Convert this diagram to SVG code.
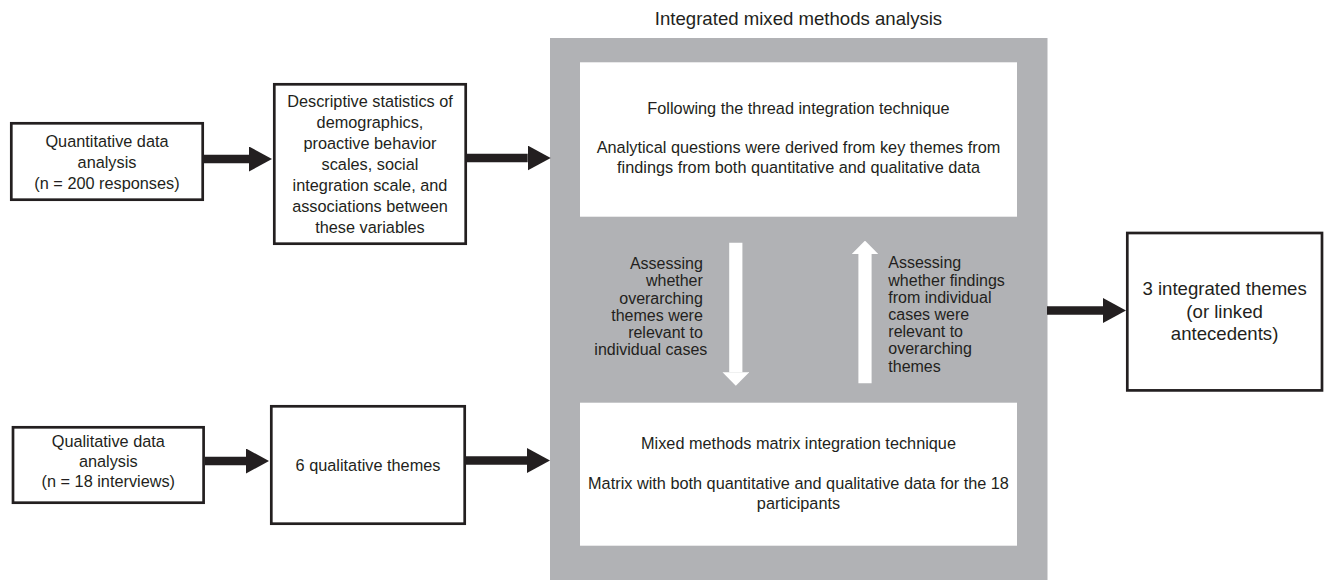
<svg xmlns="http://www.w3.org/2000/svg" width="1327" height="580" viewBox="0 0 1327 580">
  <style>
    text { font-family: "Liberation Sans", Arial, Helvetica, sans-serif; fill: #231f20; }
    .t { font-size: 16.3px; text-anchor: middle; }
    .big { font-size: 18.6px; text-anchor: middle; }
    .side { font-size: 16px; }
    .box { fill: #ffffff; stroke: #231f20; stroke-width: 2.7; }
    .panel { fill: #b1b2b5; }
    .inner { fill: #ffffff; }
    .flow { stroke: #231f20; stroke-width: 8.5; fill: none; marker-end: url(#head); }
    .loop { stroke: #ffffff; stroke-width: 13.2; fill: none; marker-end: url(#whead); }
  </style>
  <defs>
    <marker id="head" viewBox="0 0 23 25" markerWidth="23" markerHeight="25" refX="0" refY="12.5" orient="auto" markerUnits="userSpaceOnUse">
      <path d="M0,0 L23,12.5 L0,25 Z" fill="#231f20"/>
    </marker>
    <marker id="whead" viewBox="0 0 13.4 26.6" markerWidth="13.4" markerHeight="26.6" refX="0" refY="13.3" orient="auto" markerUnits="userSpaceOnUse">
      <path d="M0,0 L13.4,13.3 L0,26.6 Z" fill="#ffffff"/>
    </marker>
  </defs>

  <!-- integration panel -->
  <g id="integration">
    <text class="big" x="798.5" y="24.5">Integrated mixed methods analysis</text>
    <rect class="panel" x="550" y="38" width="497.5" height="542"/>
  </g>

  <g id="thread">
    <rect class="inner" x="580" y="62.3" width="437" height="154.4"/>
    <text class="t" x="798.5" y="113.5">Following the thread integration technique</text>
    <text class="t" x="798.5" y="153">Analytical questions were derived from key themes from</text>
    <text class="t" x="798.5" y="173">findings from both quantitative and qualitative data</text>
  </g>

  <g id="matrix">
    <rect class="inner" x="580" y="402.7" width="437" height="143"/>
    <text class="t" x="798.5" y="449">Mixed methods matrix integration technique</text>
    <text class="t" x="798.5" y="489">Matrix with both quantitative and qualitative data for the 18</text>
    <text class="t" x="798.5" y="509">participants</text>
  </g>

  <g id="down-label">
    <text class="side" text-anchor="end">
      <tspan x="707.3" y="269.3">Assessing</tspan>
      <tspan x="707.3" y="286.4">whether</tspan>
      <tspan x="707.3" y="303.5">overarching</tspan>
      <tspan x="707.3" y="320.6">themes were</tspan>
      <tspan x="707.3" y="337.7">relevant to</tspan>
      <tspan x="707.3" y="354.8">individual cases</tspan>
    </text>
  </g>

  <g id="up-label">
    <text class="side" text-anchor="start">
      <tspan x="888.3" y="268.3">Assessing</tspan>
      <tspan x="888.3" y="285.5">whether findings</tspan>
      <tspan x="888.3" y="302.7">from individual</tspan>
      <tspan x="888.3" y="319.9">cases were</tspan>
      <tspan x="888.3" y="337.1">relevant to</tspan>
      <tspan x="888.3" y="354.3">overarching</tspan>
      <tspan x="888.3" y="371.5">themes</tspan>
    </text>
  </g>

  <!-- input nodes -->
  <g id="quant">
    <rect class="box" x="11.3" y="123.3" width="191.4" height="76.4"/>
    <text class="t" x="107" y="147">Quantitative data</text>
    <text class="t" x="107" y="168">analysis</text>
    <text class="t" x="107" y="189">(n = 200 responses)</text>
  </g>

  <g id="descriptive">
    <rect class="box" x="274.3" y="84.3" width="191.4" height="159.4"/>
    <text class="t" x="370" y="106.5">Descriptive statistics of</text>
    <text class="t" x="370" y="127.5">demographics,</text>
    <text class="t" x="370" y="148.5">proactive behavior</text>
    <text class="t" x="370" y="169.5">scales, social</text>
    <text class="t" x="370" y="190.5">integration scale, and</text>
    <text class="t" x="370" y="211.5">associations between</text>
    <text class="t" x="370" y="232.5">these variables</text>
  </g>

  <g id="qual">
    <rect class="box" x="13" y="427.3" width="190.6" height="75.4"/>
    <text class="t" x="108.3" y="447">Qualitative data</text>
    <text class="t" x="108.3" y="467">analysis</text>
    <text class="t" x="108.3" y="487">(n = 18 interviews)</text>
  </g>

  <g id="themes">
    <rect class="box" x="271.3" y="406.3" width="193.4" height="117.4"/>
    <text class="t" x="368" y="470.5">6 qualitative themes</text>
  </g>

  <g id="result">
    <rect class="box" x="1127.3" y="233" width="194.7" height="157.4"/>
    <text class="big" x="1224.6" y="295">3 integrated themes</text>
    <text class="big" x="1224.6" y="317.5">(or linked</text>
    <text class="big" x="1224.6" y="340">antecedents)</text>
  </g>

  <!-- connectors -->
  <g id="connectors">
    <line class="flow" x1="204" y1="159" x2="249" y2="159"/>
    <line class="flow" x1="467" y1="158" x2="527.7" y2="158"/>
    <line class="flow" x1="205" y1="461" x2="246" y2="461"/>
    <line class="flow" x1="466" y1="460.5" x2="527" y2="460.5"/>
    <line class="flow" x1="1047" y1="310.5" x2="1103" y2="310.5"/>
    <line class="loop" x1="735.8" y1="242.7" x2="735.8" y2="372.3"/>
    <line class="loop" x1="865" y1="383.3" x2="865" y2="254"/>
  </g>
</svg>
